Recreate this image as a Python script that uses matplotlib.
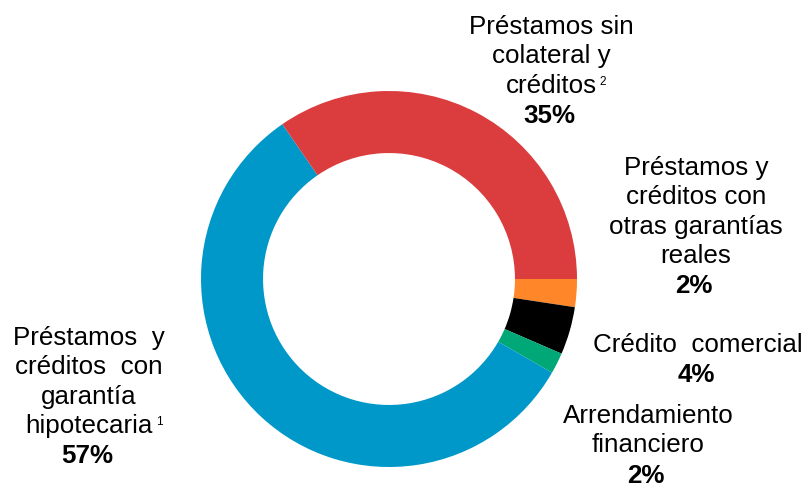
import matplotlib
matplotlib.use("Agg")
import matplotlib.pyplot as plt

plt.rcParams['font.family'] = ['Liberation Sans', 'DejaVu Sans']

# loan portfolio shares, clockwise from 3 o'clock
names = [
    "Préstamos y\ncréditos con\notras garantías\nreales",
    "Crédito  comercial",
    "Arrendamiento\nfinanciero",
    "Préstamos  y\ncréditos  con\ngarantía\nhipotecaria",
    "Préstamos sin\ncolateral y\ncréditos",
]
notes = ["", "", "", "1", "2"]
shares = [2.4, 4.1, 1.8, 57.1, 34.6]
colors = ["#FF872A", "#000000", "#00A878", "#0098C8", "#DB3D3E"]

# label anchors in pixels: (x centre, baseline of first line)
label_pos = [(696, 175), (698, 352), (648, 423), (89, 345), (551, 34)]
step = 29.3

W, H = 808, 488
fig = plt.figure(figsize=(W / 100, H / 100), dpi=100)
ax = fig.add_axes([0, 0, 1, 1])

cx, cy, r = 389, 279, 188
ax.pie(shares, colors=colors, startangle=0, counterclock=False,
       radius=r, center=(cx, H - cy),
       wedgeprops=dict(width=r * 0.33, linewidth=0))
ax.set_xlim(0, W)
ax.set_ylim(0, H)
ax.set_aspect('equal')
ax.axis('off')

fs = 18.7
fig.canvas.draw()
for name, note, v, (x, y0) in zip(names, notes, shares, label_pos):
    lines = name.split("\n")
    for i, line in enumerate(lines):
        t = ax.text(x, H - (y0 + i * step), line, ha='center', va='baseline',
                    fontsize=fs, color='#000000')
    if note:
        # small footnote marker after the last line
        bb = t.get_window_extent(renderer=fig.canvas.get_renderer())
        ax.text(bb.x1 + 3, H - (y0 + (len(lines) - 1) * step) + 17, note,
                ha='left', va='top', fontsize=8.5, transform=None)
    ax.text(x - 2, H - (y0 + len(lines) * step + 1), f"{v:.0f}%", ha='center',
            va='baseline', fontsize=fs, fontweight='bold')

fig.savefig("out.png", dpi=100)
